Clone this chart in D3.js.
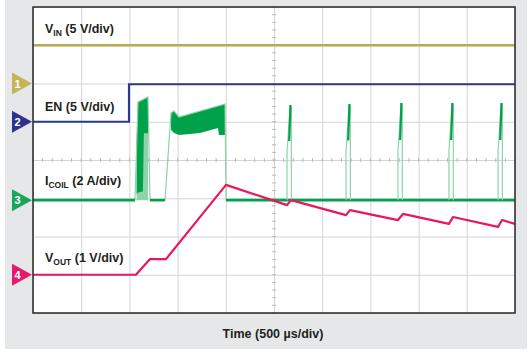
<!DOCTYPE html>
<html><head><meta charset="utf-8">
<script src="https://cdn.jsdelivr.net/npm/d3@7"></script>
<style>html,body{margin:0;padding:0;background:#fff}</style>
</head><body>
<svg id="c" width="530" height="352"></svg>
<script>
// ---------- data (time in µs, values in channel units) ----------
const timeDomain = [0, 5000];            // 10 div × 500 µs
const timeTicks = d3.range(0, 5001, 500);
const divTicks = d3.range(-4, 4.01, 1);

const vinT = [0, 5000];
const vinV = [5.0, 5.0];

const enT = [0, 996, 996, 5000];
const enV = [0, 0, 4.9, 4.9];

// I_COIL outline (A)
const iCoilT = [1058, 1089, 1193, 1214, 1369, 1432, 1463, 1515, 1992, 2002];
const iCoilA = [0, 5.13, 5.4, 0, 0, 4.56, 4.66, 4.35, 5.03, 0];
const iCoilBaseStart = [0, 1214, 2002];
const iCoilBaseEnd = [1058, 1369, 5000];

const burstT = [1075, 1089, 1140, 1150, 1193];
const burstTop = [3.0, 5.13, 5.25, 5.3, 5.4];
const burstBot = [0.3, 0.4, 0.45, 3.5, 3.5];

const bandT = [1432, 1463, 1515, 1732, 1919, 1929, 1992];
const bandTop = [4.56, 4.66, 4.35, 4.66, 4.92, 4.94, 5.03];
const bandBot = [3.67, 3.51, 3.41, 3.51, 3.77, 3.41, 3.41];

const pulseT0 = [2635, 3247, 3786, 4315, 4824];
const pulsePeak = [4.98, 5.03, 5.08, 5.08, 5.08];
const pulseWidth = 45;

const vOutT = [0, 1068, 1214, 1380, 2002, 2635, 2676, 3247, 3288, 3786, 3838, 4315, 4357, 4824, 4865, 5000];
const vOutV = [0, 0, 0.41, 0.41, 2.35, 1.82, 1.95, 1.56, 1.69, 1.43, 1.59, 1.33, 1.51, 1.25, 1.43, 1.33];

const chNames = ["1", "2", "3", "4"];
const chLabels = [["V", "IN", " (5 V/div)"], ["EN (5 V/div)", "", ""], ["I", "COIL", " (2 A/div)"], ["V", "OUT", " (1 V/div)"]];
const chPerDiv = [5, 5, 2, 1];
const xLabel = "Time (500 µs/div)";

// ---------- layout / style ----------
const chOffsetDiv = [2, 1, -1.05, -3];
const chColor = ["#b8ac4e", "#2b3990", "#00a14b", "#e8185c"];
const markColor = ["#c2b55a", "#2e3192", "#1aa65a", "#e8196a"];
const labelY = [33, 111, 185, 262];
const lightGreen = "#8fd3a9";

const svg = d3.select("#c");
svg.append("rect").attr("x", 5).attr("y", 0).attr("width", 522).attr("height", 349).attr("fill", "#e6e7e8");

const L = 33, R = 515, T = 7, B = 313;
const x = d3.scaleLinear().domain(timeDomain).range([L, R]);
const y = d3.scaleLinear().domain([-4, 4]).range([B, T]);
const yc = (ch, v) => y(chOffsetDiv[ch] + v / chPerDiv[ch]);

svg.append("rect").attr("x", L).attr("y", T).attr("width", R - L).attr("height", B - T).attr("fill", "#fff");

// grid
const gx = svg.append("g").attr("transform", `translate(0,${B})`)
  .call(d3.axisBottom(x).tickValues(timeTicks).tickSize(-(B - T)).tickFormat(""));
const gy = svg.append("g").attr("transform", `translate(${L},0)`)
  .call(d3.axisLeft(y).tickValues(divTicks).tickSize(-(R - L)).tickFormat(""));
[gx, gy].forEach(g => { g.select(".domain").remove(); g.selectAll("line").attr("stroke", "#d4d4d4").attr("stroke-width", 1); });

// center axes minor ticks
const gc = svg.append("g");
gc.selectAll("line.mx").data(d3.range(0, 5001, 100)).join("line")
  .attr("x1", d => x(d)).attr("x2", d => x(d)).attr("y1", y(0) - 2).attr("y2", y(0) + 2)
  .attr("stroke", "#bbb").attr("stroke-width", 1);
gc.selectAll("line.my").data(d3.range(-4, 4.01, 0.2)).join("line")
  .attr("y1", d => y(d)).attr("y2", d => y(d)).attr("x1", x(2500) - 2).attr("x2", x(2500) + 2)
  .attr("stroke", "#bbb").attr("stroke-width", 1);

const line = ch => d3.line().x(d => x(d[0])).y(d => yc(ch, d[1]));
const zip = (a, b) => a.map((v, i) => [v, b[i]]);

// VIN
svg.append("path").attr("d", line(0)(zip(vinT, vinV))).attr("fill", "none")
  .attr("stroke", chColor[0]).attr("stroke-width", 2.6);
// EN
svg.append("path").attr("d", line(1)(zip(enT, enV))).attr("fill", "none")
  .attr("stroke", chColor[1]).attr("stroke-width", 2.2);

// ICOIL areas
const area = (t, top, bot) => d3.area().x((d, i) => x(t[i])).y0((d, i) => yc(2, bot[i])).y1((d, i) => yc(2, top[i]))(t);
svg.append("path").attr("d", area(burstT, burstTop, burstT.map(() => 0))).attr("fill", lightGreen);
svg.append("path").attr("d", area(burstT, burstTop, burstBot)).attr("fill", chColor[2]);
svg.append("path").attr("d", area(bandT, bandTop, bandBot)).attr("fill", chColor[2]);
// outline
svg.append("path").attr("d", line(2)(zip(iCoilT, iCoilA))).attr("fill", "none")
  .attr("stroke", lightGreen).attr("stroke-width", 1.2);
// baseline segments
iCoilBaseStart.forEach((s, i) => {
  svg.append("path").attr("d", line(2)([[s, 0], [iCoilBaseEnd[i], 0]])).attr("fill", "none")
    .attr("stroke", chColor[2]).attr("stroke-width", 2.6);
});
// pulses
pulseT0.forEach((t0, i) => {
  const p = pulsePeak[i];
  svg.append("path").attr("d", line(2)([[t0, 0], [t0, p * 0.5], [t0 + pulseWidth * 0.75, p], [t0 + pulseWidth, p * 0.97], [t0 + pulseWidth, 0]]))
    .attr("fill", "none").attr("stroke", lightGreen).attr("stroke-width", 1.2);
  svg.append("path").attr("d", line(2)([[t0 + pulseWidth * 0.5, p * 0.62], [t0 + pulseWidth * 0.8, p]]))
    .attr("fill", "none").attr("stroke", chColor[2]).attr("stroke-width", 2.2);
});

// VOUT
svg.append("path").attr("d", line(3)(zip(vOutT, vOutV))).attr("fill", "none")
  .attr("stroke", chColor[3]).attr("stroke-width", 2.2).attr("stroke-linejoin", "round");

// frame
svg.append("rect").attr("x", L).attr("y", T).attr("width", R - L).attr("height", B - T)
  .attr("fill", "none").attr("stroke", "#333").attr("stroke-width", 1.6);

// markers
chNames.forEach((n, i) => {
  const cy = yc(i, 0);
  svg.append("path").attr("d", `M12,${cy - 11}L12,${cy + 11}L32,${cy}Z`).attr("fill", markColor[i]);
  svg.append("text").attr("x", 17.5).attr("y", cy + 4).attr("text-anchor", "middle")
    .attr("font-family", "Liberation Sans, Arial, sans-serif").attr("font-weight", "bold")
    .attr("font-size", 11).attr("fill", "#fff").text(n);
});

// labels
chLabels.forEach((lab, i) => {
  const t = svg.append("text").attr("x", 45).attr("y", labelY[i])
    .attr("font-family", "Liberation Sans, Arial, sans-serif").attr("font-weight", "bold")
    .attr("font-size", 12.5).attr("fill", "#231f20");
  t.append("tspan").text(lab[0]);
  if (lab[1]) t.append("tspan").attr("font-size", 8.5).attr("dy", 3).text(lab[1]);
  if (lab[2]) t.append("tspan").attr("dy", lab[1] ? -3 : 0).text(lab[2]);
});

svg.append("text").attr("x", 273).attr("y", 338).attr("text-anchor", "middle")
  .attr("font-family", "Liberation Sans, Arial, sans-serif").attr("font-weight", "bold")
  .attr("font-size", 12.5).attr("fill", "#231f20").text(xLabel);
</script>
</body></html>
